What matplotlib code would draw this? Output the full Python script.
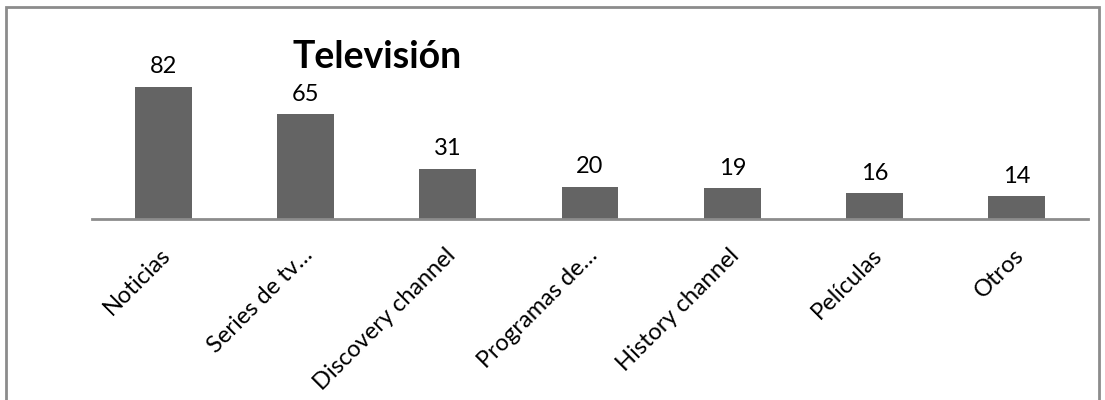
import matplotlib.pyplot as plt
from matplotlib.patches import Rectangle
from matplotlib.transforms import ScaledTranslation

plt.rcParams['font.family'] = ['Lato', 'DejaVu Sans']

categorias = ['Noticias', 'Series de tv…', 'Discovery channel', 'Programas de…',
              'History channel', 'Películas', 'Otros']
valores = [82, 65, 31, 20, 19, 16, 14]

bar_color = '#646464'
axis_color = '#8c8c8c'

fig = plt.figure(figsize=(11.05, 4.0), dpi=100)
ax = fig.add_axes([92 / 1105, 1 - 219 / 400, 996 / 1105, 145 / 400])

x = list(range(len(categorias)))
ax.bar(x, valores, width=0.4, color=bar_color)
ax.set_xlim(-0.5, len(categorias) - 0.5)
ax.set_ylim(0, 90)

for xi, v in zip(x, valores):
    ax.text(xi, v + 6, str(v), ha='center', va='bottom', fontsize=17, clip_on=False)

ax.set_xticks(x)
ax.set_xticklabels(categorias, rotation=45, ha='right', va='center',
                   rotation_mode='anchor', fontsize=17)
ax.tick_params(axis='x', length=0, pad=0)
desplaz = ScaledTranslation(4 / 100, -33 / 100, fig.dpi_scale_trans)
for lbl in ax.get_xticklabels():
    lbl.set_transform(lbl.get_transform() + desplaz)
ax.set_yticks([])
for s in ['top', 'right', 'left']:
    ax.spines[s].set_visible(False)
ax.spines['bottom'].set_color(axis_color)
ax.spines['bottom'].set_linewidth(2)

fig.text(377 / 1105, 1 - 57 / 400, 'Televisión', ha='center', va='center',
         fontsize=27, fontweight='bold')

# borde del gráfico
fig.patches.append(Rectangle((6 / 1105, -0.05), 1093 / 1105, 1.05 - 7 / 400,
                             transform=fig.transFigure, fill=False,
                             edgecolor='#8c8c8c', linewidth=2))

fig.savefig('out.png', dpi=100)
